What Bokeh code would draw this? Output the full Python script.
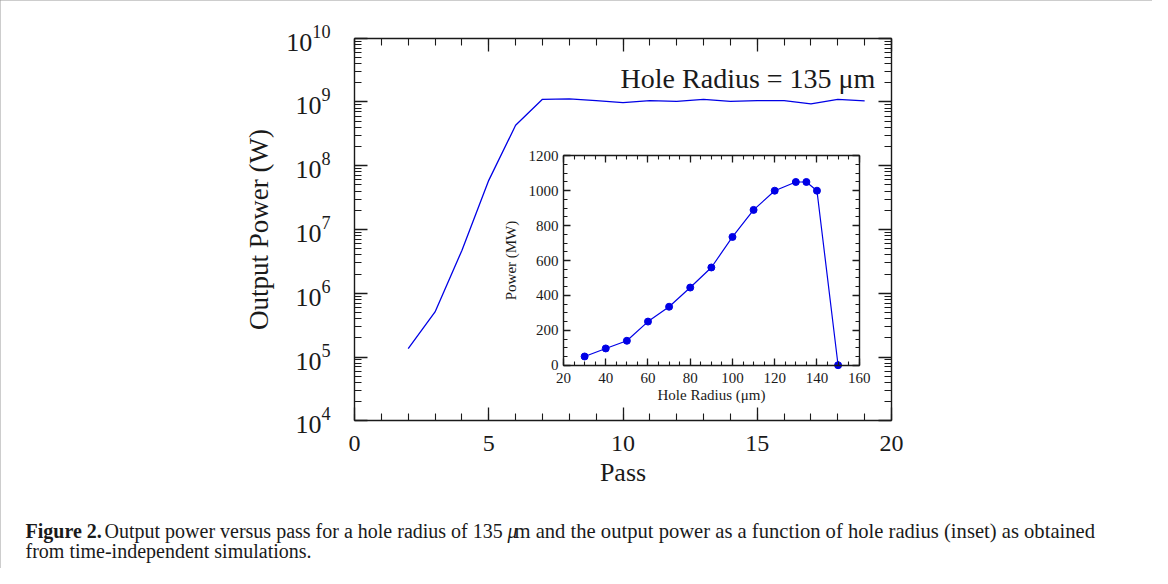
from bokeh.plotting import figure
from bokeh.models import (Range1d, FixedTicker, LinearAxis, LogAxis,
                          LogTickFormatter, Label, LinearScale)
from bokeh.embed import file_html
from bokeh.resources import INLINE

# ---------------- data ----------------
passes = list(range(2, 20))
power_w = [1.36e5, 5.1e5, 4.7e6, 5.9e7, 4.3e8, 1.1e9, 1.12e9, 1.05e9, 9.8e8,
           1.05e9, 1.02e9, 1.1e9, 1.02e9, 1.05e9, 1.05e9, 9.3e8, 1.1e9, 1.04e9]

hole_radius = [30, 40, 50, 60, 70, 80, 90, 100, 110, 120, 130, 135, 140, 150]
power_mw = [50, 96, 140, 250, 335, 445, 560, 735, 890, 1000, 1050, 1050, 1000, 0]

main_x_ticks = [0, 5, 10, 15, 20]
main_y_exponents = [4, 5, 6, 7, 8, 9, 10]
inset_x_ticks = [20, 40, 60, 80, 100, 120, 140, 160]
inset_y_ticks = [0, 200, 400, 600, 800, 1000, 1200]

annotation = "Hole Radius = 135 \u03bcm"
caption_bold = "Figure 2."
caption_a = "Output power versus pass for a hole radius of 135"
caption_mu = "\u03bc"
caption_b = "m and the output power as a function of hole radius (inset) as obtained"
caption_line2 = "from time-independent simulations."

FONT = "Liberation Serif"
INK = "#1a1a1a"
BLUE = "#0000e6"

# ---------------- layout geometry (canvas pixels) ----------------
W, H = 1152, 568
MAIN_L, MAIN_R, MAIN_T, MAIN_B = 354.0, 891.0, 37.7, 420.3
INS_L, INS_R, INS_T, INS_B = 563.0, 858.7, 155.3, 364.7


def style_axis(ax, major_in, minor_in, size, labels=True, standoff=8):
    ax.major_tick_in = major_in
    ax.major_tick_out = 0
    ax.minor_tick_in = minor_in
    ax.minor_tick_out = 0
    ax.axis_line_color = INK
    ax.axis_line_width = 1.4
    ax.major_tick_line_color = INK
    ax.major_tick_line_width = 1.3
    ax.minor_tick_line_color = INK
    ax.minor_tick_line_width = 1.1
    ax.major_label_text_font = FONT
    ax.major_label_text_color = INK
    ax.axis_label_text_font = FONT
    ax.axis_label_text_font_style = "normal"
    ax.axis_label_text_color = INK
    if labels:
        ax.major_label_text_font_size = size
        ax.major_label_standoff = standoff
    else:
        ax.major_label_text_font_size = "1px"
        ax.major_label_text_alpha = 0
        ax.major_label_standoff = 0


# main ranges extended so the whole canvas is the frame
x0, x1 = main_x_ticks[0], main_x_ticks[-1]
e0, e1 = main_y_exponents[0], main_y_exponents[-1]
xs = (x1 - x0) / (MAIN_R - MAIN_L)
dpp = (e1 - e0) / (MAIN_B - MAIN_T)
x_start = x0 - MAIN_L * xs
y_lo = 10 ** (e0 - (H - MAIN_B) * dpp)
y_hi = 10 ** (e1 + MAIN_T * dpp)

p = figure(frame_width=W, frame_height=H, min_border=0,
           x_range=Range1d(x_start, x_start + W * xs), y_range=Range1d(y_lo, y_hi),
           y_axis_type="log", x_axis_location=None, y_axis_location=None,
           output_backend="svg", toolbar_location=None,
           styles={"outline": "1px solid #9a9a9a", "outline-offset": "-1px"})
p.grid.visible = False
p.outline_line_color = None

xt = FixedTicker(ticks=main_x_ticks, minor_ticks=list(range(x0, x1 + 1)))
yt = FixedTicker(ticks=[10.0 ** e for e in main_y_exponents],
                 minor_ticks=[m * 10.0 ** e for e in main_y_exponents[:-1] for m in range(2, 10)])

xb = LinearAxis(ticker=xt, fixed_location=10.0 ** e0, bounds=(x0, x1), axis_label="Pass")
style_axis(xb, 13, 7, "24px", standoff=15)
xb.axis_label_text_font_size = "26px"
xb.axis_label_standoff = 4
p.add_layout(xb, "below")

yl = LogAxis(ticker=yt, formatter=LogTickFormatter(), fixed_location=x0,
             bounds=(10.0 ** e0, 10.0 ** e1), axis_label="Output Power (W)")
style_axis(yl, 13, 7, "26px", standoff=24)
yl.axis_label_text_font_size = "27px"
yl.axis_label_standoff = 9
p.add_layout(yl, "left")

xa = LinearAxis(ticker=xt, fixed_location=10.0 ** e1, bounds=(x0, x1))
style_axis(xa, 13, 7, "1px", labels=False)
p.add_layout(xa, "above")

yr = LogAxis(ticker=yt, fixed_location=x1, bounds=(10.0 ** e0, 10.0 ** e1))
style_axis(yr, 13, 7, "1px", labels=False)
p.add_layout(yr, "right")

p.line(passes, power_w, line_color=BLUE, line_width=1.3)

p.add_layout(Label(x=19.4, y=2.33e9, text=annotation, text_align="right",
                   text_baseline="alphabetic", text_font=FONT,
                   text_font_size="28px", text_color=INK))

# ---------------- inset (extra ranges) ----------------
ix0, ix1 = inset_x_ticks[0], inset_x_ticks[-1]
iy0, iy1 = inset_y_ticks[0], inset_y_ticks[-1]
ixs = (ix1 - ix0) / (INS_R - INS_L)
iys = (iy1 - iy0) / (INS_B - INS_T)
ix_start = ix0 - INS_L * ixs
iy_start = iy0 - (H - INS_B) * iys
p.extra_x_ranges = {"ix": Range1d(ix_start, ix_start + W * ixs)}
p.extra_y_ranges = {"iy": Range1d(iy_start, iy_start + H * iys)}
p.extra_x_scales = {"ix": LinearScale()}
p.extra_y_scales = {"iy": LinearScale()}

ixt = FixedTicker(ticks=inset_x_ticks, minor_ticks=list(range(ix0, ix1 + 1, 5)))
iyt = FixedTicker(ticks=inset_y_ticks, minor_ticks=list(range(iy0, iy1 + 1, 50)))

ib = LinearAxis(x_range_name="ix", y_range_name="iy", ticker=ixt,
                fixed_location=iy0, bounds=(ix0, ix1),
                axis_label="Hole Radius (\u03bcm)")
style_axis(ib, 7, 4, "15px", standoff=8)
ib.axis_label_text_font_size = "15px"
ib.axis_label_standoff = 0
p.add_layout(ib, "below")

il = LinearAxis(x_range_name="ix", y_range_name="iy", ticker=iyt,
                fixed_location=ix0, bounds=(iy0, iy1),
                axis_label="Power (MW)")
style_axis(il, 7, 4, "15px", standoff=5)
il.axis_label_text_font_size = "15px"
il.axis_label_standoff = 7
p.add_layout(il, "left")

it = LinearAxis(x_range_name="ix", y_range_name="iy", ticker=ixt,
                fixed_location=iy1, bounds=(ix0, ix1))
style_axis(it, 7, 4, "1px", labels=False)
p.add_layout(it, "above")

ir = LinearAxis(x_range_name="ix", y_range_name="iy", ticker=iyt,
                fixed_location=ix1, bounds=(iy0, iy1))
style_axis(ir, 7, 4, "1px", labels=False)
p.add_layout(ir, "right")

p.line(hole_radius, power_mw, x_range_name="ix", y_range_name="iy",
       line_color=BLUE, line_width=1.2)
p.scatter(hole_radius, power_mw, x_range_name="ix", y_range_name="iy",
          size=7, fill_color=BLUE, line_color=BLUE)

# ---------------- caption (screen units, from bottom-left of canvas) ----------------
common = dict(x_units="screen", y_units="screen", text_font=FONT,
              text_color=INK, text_baseline="alphabetic")
p.add_layout(Label(x=25, y=38, text=caption_bold, text_font_style="bold",
                   text_font_size="20px", **common))
p.add_layout(Label(x=104, y=38, text=caption_a, text_font_size="20px", **common))
p.add_layout(Label(x=507, y=38, text=caption_mu, text_font_style="italic",
                   text_font_size="20px", **common))
p.add_layout(Label(x=514, y=38, text=caption_b, text_font_size="20.6px", **common))
p.add_layout(Label(x=25, y=18, text=caption_line2, text_font_size="20px", **common))

open("out.html", "w", encoding="utf-8").write(file_html(p, INLINE))
